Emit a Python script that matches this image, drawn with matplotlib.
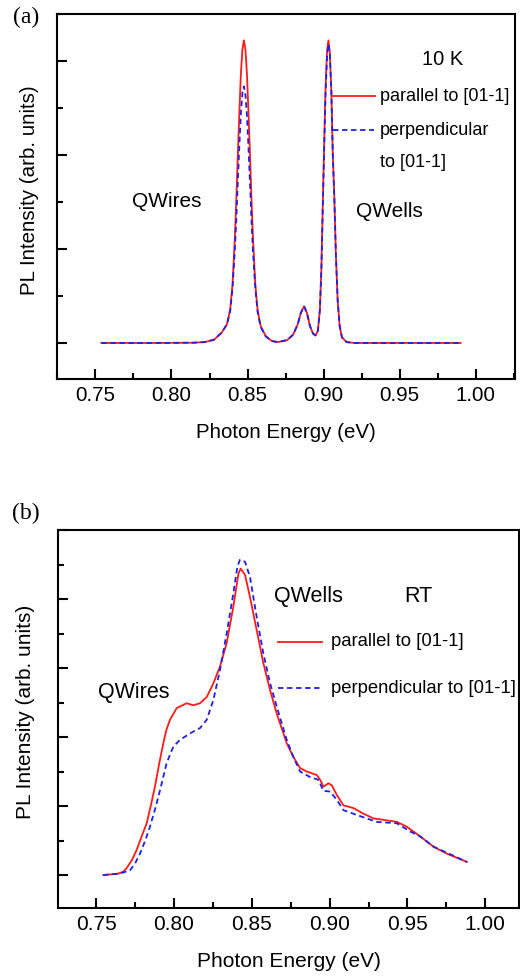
import matplotlib
matplotlib.use("Agg")
import matplotlib.pyplot as plt
from matplotlib.ticker import MultipleLocator

plt.rcParams['font.family'] = ['Liberation Sans', 'DejaVu Sans']

# (a) 10 K spectra, photon energy (eV) vs PL intensity (arb. units)
energy_a = [0.754, 0.790, 0.815, 0.822, 0.828, 0.833, 0.8365, 0.8386, 0.8401,
            0.8416, 0.8426, 0.8436, 0.8446, 0.8456, 0.8466, 0.8476, 0.8486,
            0.8496, 0.8506, 0.8516, 0.8526, 0.8536, 0.8551, 0.8566, 0.8586,
            0.862, 0.866, 0.870, 0.876, 0.880, 0.883, 0.885, 0.8871, 0.889,
            0.891, 0.893, 0.8947, 0.8962, 0.8975, 0.8985, 0.8993, 0.9003,
            0.9012, 0.9022, 0.9031, 0.904, 0.905, 0.906, 0.907, 0.908,
            0.9092, 0.9105, 0.912, 0.915, 0.920, 0.990]
par_a = [0.0, 0.0, 0.003, 0.01, 0.035, 0.11, 0.20, 0.36, 0.62,
         1.10, 1.52, 2.00, 2.45, 2.86, 3.12, 3.22, 3.12,
         2.86, 2.45, 2.00, 1.52, 1.10, 0.62, 0.35, 0.18,
         0.07, 0.02, 0.01, 0.03, 0.09, 0.20, 0.32, 0.39, 0.32,
         0.18, 0.10, 0.08, 0.13, 0.35, 0.80, 1.40, 2.10,
         2.70, 3.10, 3.22, 3.10, 2.70, 2.00, 1.55, 0.95,
         0.45, 0.18, 0.06, 0.01, 0.0, 0.0]
perp_a = [0.0, 0.0, 0.003, 0.01, 0.035, 0.11, 0.20, 0.34, 0.58,
          0.98, 1.32, 1.72, 2.10, 2.44, 2.66, 2.73, 2.64,
          2.42, 2.08, 1.70, 1.30, 0.96, 0.58, 0.33, 0.17,
          0.07, 0.02, 0.01, 0.03, 0.09, 0.20, 0.32, 0.39, 0.32,
          0.18, 0.10, 0.08, 0.13, 0.35, 0.78, 1.36, 2.04,
          2.64, 3.05, 3.18, 3.08, 2.70, 2.00, 1.55, 0.95,
          0.45, 0.18, 0.06, 0.01, 0.0, 0.0]

# (b) room temperature spectra
energy_b = [0.7545, 0.7640, 0.7674, 0.7695, 0.7730, 0.7759, 0.7790, 0.7824,
            0.7850, 0.7877, 0.7905, 0.7931, 0.7950, 0.7974, 0.8017, 0.8081,
            0.8124, 0.8167, 0.8210, 0.8253, 0.8295, 0.8338, 0.8381, 0.8414,
            0.8428, 0.8456, 0.8488, 0.8531, 0.8574, 0.8617, 0.8660, 0.8724,
            0.8767, 0.8810, 0.8853, 0.8917, 0.8939, 0.8960, 0.8992, 0.9014,
            0.9046, 0.9089, 0.9153, 0.9217, 0.9282, 0.9346, 0.9432, 0.9496,
            0.9582, 0.9668, 0.9753, 0.9882]
par_b = [0.00, 0.02, 0.05, 0.10, 0.22, 0.36, 0.55, 0.75,
         1.00, 1.28, 1.62, 1.91, 2.10, 2.25, 2.42, 2.49,
         2.46, 2.49, 2.58, 2.78, 3.02, 3.36, 3.89, 4.37,
         4.44, 4.35, 4.03, 3.55, 3.07, 2.68, 2.34, 1.91,
         1.71, 1.55, 1.50, 1.45, 1.38, 1.28, 1.33, 1.30,
         1.16, 1.01, 0.97, 0.89, 0.82, 0.80, 0.77, 0.70,
         0.56, 0.41, 0.31, 0.19]
energy_b2 = [0.7545, 0.7650, 0.7717, 0.7750, 0.7781, 0.7815, 0.7845, 0.7880,
             0.7910, 0.7952, 0.7995, 0.8038, 0.8102, 0.8124, 0.8167, 0.8210,
             0.8253, 0.8295, 0.8338, 0.8381, 0.8407, 0.8424, 0.8456, 0.8488,
             0.8531, 0.8574, 0.8617, 0.8660, 0.8724, 0.8767, 0.8810, 0.8874,
             0.8928, 0.8960, 0.9003, 0.9046, 0.9089, 0.9175, 0.9303, 0.9432,
             0.9518, 0.9582, 0.9668, 0.9882]
perp_b = [0.00, 0.02, 0.07, 0.17, 0.31, 0.50, 0.70, 0.97,
          1.23, 1.62, 1.86, 1.96, 2.05, 2.08, 2.13, 2.25,
          2.54, 2.97, 3.50, 4.08, 4.47, 4.57, 4.54, 4.32,
          3.74, 3.21, 2.78, 2.44, 1.96, 1.71, 1.50, 1.42,
          1.38, 1.22, 1.21, 1.09, 0.94, 0.87, 0.77, 0.75,
          0.63, 0.56, 0.41, 0.19]

xticks = [0.75, 0.80, 0.85, 0.90, 0.95, 1.00]
label_par = "parallel to [01-1]"
label_perp = "perpendicular to [01-1]"

RED = "#ff1a1a"
BLUE = "#1f1fe6"
DASH = (0, (3, 2))
LW = 1.3

fig = plt.figure(figsize=(5.2, 9.77), dpi=100)

# axes frames, placed in figure fractions
ax_a = fig.add_axes([0.1096, 0.6121, 0.8808, 0.3736])
ax_b = fig.add_axes([0.1115, 0.0706, 0.8875, 0.3869])


def style_axes(ax, xlim, ylim, ylab_x, fs):
    ax.set_xlim(*xlim)
    ax.set_ylim(*ylim)
    ax.set_xticks(xticks)
    ax.set_xticklabels(["%.2f" % t for t in xticks])
    ax.xaxis.set_minor_locator(MultipleLocator(0.025))
    ax.yaxis.set_major_locator(MultipleLocator(1))
    ax.yaxis.set_minor_locator(MultipleLocator(0.5))
    ax.tick_params(which="both", direction="in", width=1.5,
                   top=False, right=False, labelleft=False)
    ax.tick_params(which="major", length=7, labelsize=fs, pad=5)
    ax.tick_params(which="minor", length=4)
    for s in ax.spines.values():
        s.set_linewidth(1.5)
    ax.set_xlabel("Photon Energy (eV)", fontsize=fs, labelpad=13)
    ax.set_ylabel("PL Intensity (arb. units)", fontsize=fs, va="center")
    ax.yaxis.set_label_coords(ylab_x, 0.518)


# ---- panel (a)
ax_a.plot(energy_a, par_a, color=RED, lw=LW)
ax_a.plot(energy_a, perp_a, color=BLUE, lw=LW, ls=DASH)
style_axes(ax_a, (0.7248, 1.0257), (-0.383, 3.50), -0.061, 14.8)

ax_a.text(0.841, 0.874, "10 K", transform=ax_a.transAxes, fontsize=14.5,
          ha="center", va="center")
ax_a.text(0.240, 0.485, "QWires", transform=ax_a.transAxes, fontsize=15,
          ha="center", va="center")
ax_a.text(0.725, 0.458, "QWells", transform=ax_a.transAxes, fontsize=15,
          ha="center", va="center")
# hand-made legend
ax_a.plot([0.603, 0.694], [0.775, 0.775], color=RED, lw=LW,
          transform=ax_a.transAxes)
ax_a.plot([0.603, 0.692], [0.682, 0.682], color=BLUE, lw=LW, ls=DASH,
          transform=ax_a.transAxes)
ax_a.text(0.705, 0.775, label_par, transform=ax_a.transAxes, fontsize=13,
          ha="left", va="center")
ax_a.text(0.705, 0.682, "perpendicular", transform=ax_a.transAxes,
          fontsize=13, ha="left", va="center")
ax_a.text(0.705, 0.592, "to [01-1]", transform=ax_a.transAxes,
          fontsize=13, ha="left", va="center")

# ---- panel (b)
ax_b.plot(energy_b, par_b, color=RED, lw=LW)
ax_b.plot(energy_b2, perp_b, color=BLUE, lw=LW, ls=DASH)
style_axes(ax_b, (0.7254, 1.022), (-0.478, 5.0), -0.070, 15)

ax_b.text(0.542, 0.823, "QWells", transform=ax_b.transAxes, fontsize=15.5,
          ha="center", va="center")
ax_b.text(0.782, 0.823, "RT", transform=ax_b.transAxes, fontsize=15.5,
          ha="center", va="center")
ax_b.text(0.165, 0.571, "QWires", transform=ax_b.transAxes, fontsize=15.5,
          ha="center", va="center")
ax_b.plot([0.477, 0.572], [0.704, 0.704], color=RED, lw=LW,
          transform=ax_b.transAxes)
ax_b.plot([0.477, 0.568], [0.582, 0.582], color=BLUE, lw=LW, ls=DASH,
          transform=ax_b.transAxes)
ax_b.text(0.592, 0.704, label_par, transform=ax_b.transAxes, fontsize=13.3,
          ha="left", va="center")
ax_b.text(0.592, 0.582, label_perp, transform=ax_b.transAxes, fontsize=13.3,
          ha="left", va="center")

# panel letters
fig.text(13 / 520, 1 - 17 / 977, "(a)", family="Liberation Serif",
         fontsize=17, ha="left", va="center")
fig.text(12 / 520, 1 - 513 / 977, "(b)", family="Liberation Serif",
         fontsize=17, ha="left", va="center")

fig.savefig("out.png", dpi=100)
